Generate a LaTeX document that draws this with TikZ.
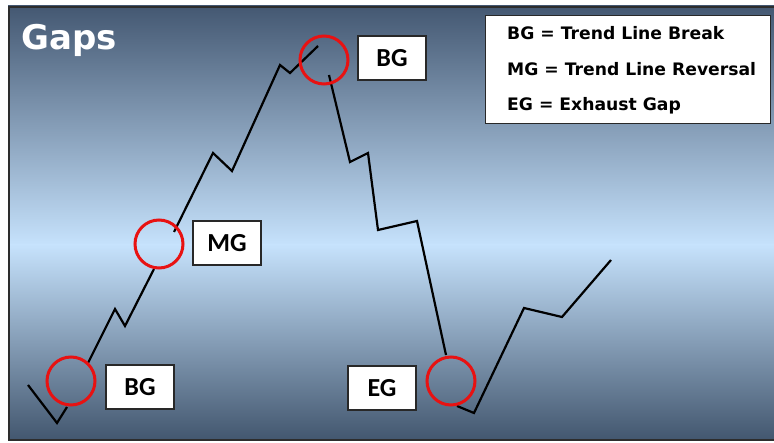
\documentclass[tikz,border=0pt]{standalone}
\usepackage{fontspec}
\setmainfont{DejaVu Sans}
\newfontfamily\labelfont{Carlito}
\definecolor{skydark}{RGB}{68,88,114}
\definecolor{skylight}{RGB}{198,226,252}
\definecolor{skybottom}{RGB}{66,86,110}
\definecolor{framegray}{RGB}{45,45,45}
\definecolor{boxgray}{RGB}{40,40,40}
\definecolor{ringred}{RGB}{232,18,18}
\begin{document}
\begin{tikzpicture}[x=1pt,y=-1pt,
  price/.style={draw=black,line width=2.2pt,line join=miter},
  gapring/.style={draw=ringred,line width=3pt},
  tagbox/.style={draw=boxgray,fill=white,line width=1.4pt,minimum width=68pt,
    minimum height=44pt,inner sep=0pt,font=\labelfont\bfseries\fontsize{26}{26}\selectfont},
  keytext/.style={anchor=base west,inner sep=0pt,font=\bfseries\fontsize{17.2}{17.2}\selectfont}]
\useasboundingbox (0,0) rectangle (774,443);
\fill[white] (0,0) rectangle (774,443);

% background panel: dark at top and bottom, light band in the middle
\shade[top color=skydark,bottom color=skylight] (8,6) rectangle (778,245);
\shade[top color=skylight,bottom color=skybottom] (8,245) rectangle (778,441);
\draw[framegray,line width=2pt] (778,7) -- (9,7) -- (9,440) -- (778,440);

% title
\node[anchor=base west,inner sep=0pt,text=white,font=\bfseries\fontsize{34}{34}\selectfont] (title) at (21,50) {Gaps};

% legend
\node[draw=boxgray,fill=white,line width=1.2pt,minimum width=285pt,minimum height=108pt,anchor=north west,inner sep=0pt] (legend) at (485,15) {};
\node[keytext] (k1) at (507,40) {BG = Trend Line Break};
\node[keytext] (k2) at (507,76) {MG = Trend Line Reversal};
\node[keytext] (k3) at (507,111) {EG = Exhaust Gap};

% price path points
\coordinate (p1) at (28,385);
\coordinate (p2) at (57,423);
\coordinate (p3) at (67,407);
\coordinate (p4) at (88,363);
\coordinate (p5) at (115,309);
\coordinate (p6) at (125,326);
\coordinate (p7) at (154,269);
\coordinate (p8) at (174,232);
\coordinate (p9) at (213,153);
\coordinate (p10) at (232,171);
\coordinate (p11) at (280,65);
\coordinate (p12) at (290,73);
\coordinate (p13) at (318,46);
\coordinate (p14) at (329,75);
\coordinate (p15) at (350,162);
\coordinate (p16) at (368,153);
\coordinate (p17) at (378,230);
\coordinate (p18) at (417,221);
\coordinate (p19) at (446,355);
\coordinate (p20) at (457,406);
\coordinate (p21) at (474,413);
\coordinate (p22) at (524,308);
\coordinate (p23) at (562,317);
\coordinate (p24) at (611,260);

% price path, broken at each gap
\draw[price] (p1) -- (p2) -- (p3);
\draw[price] (p4) -- (p5) -- (p6) -- (p7);
\draw[price] (p8) -- (p9) -- (p10) -- (p11) -- (p12) -- (p13);
\draw[price] (p14) -- (p15) -- (p16) -- (p17) -- (p18) -- (p19);
\draw[price] (p20) -- (p21) -- (p22) -- (p23) -- (p24);

% gap markers
\node[gapring,circle,minimum size=48pt,inner sep=0pt] (g1) at (71,381) {};
\node[gapring,circle,minimum size=48pt,inner sep=0pt] (g2) at (159,244) {};
\node[gapring,circle,minimum size=48pt,inner sep=0pt] (g3) at (324,60) {};
\node[gapring,circle,minimum size=48pt,inner sep=0pt] (g4) at (451,381) {};

% gap labels
\node[tagbox] (t1) at (140,387) {BG};
\node[tagbox] (t2) at (227,243) {MG};
\node[tagbox] (t3) at (392,58) {BG};
\node[tagbox] (t4) at (382,388) {EG};
\end{tikzpicture}
\end{document}
